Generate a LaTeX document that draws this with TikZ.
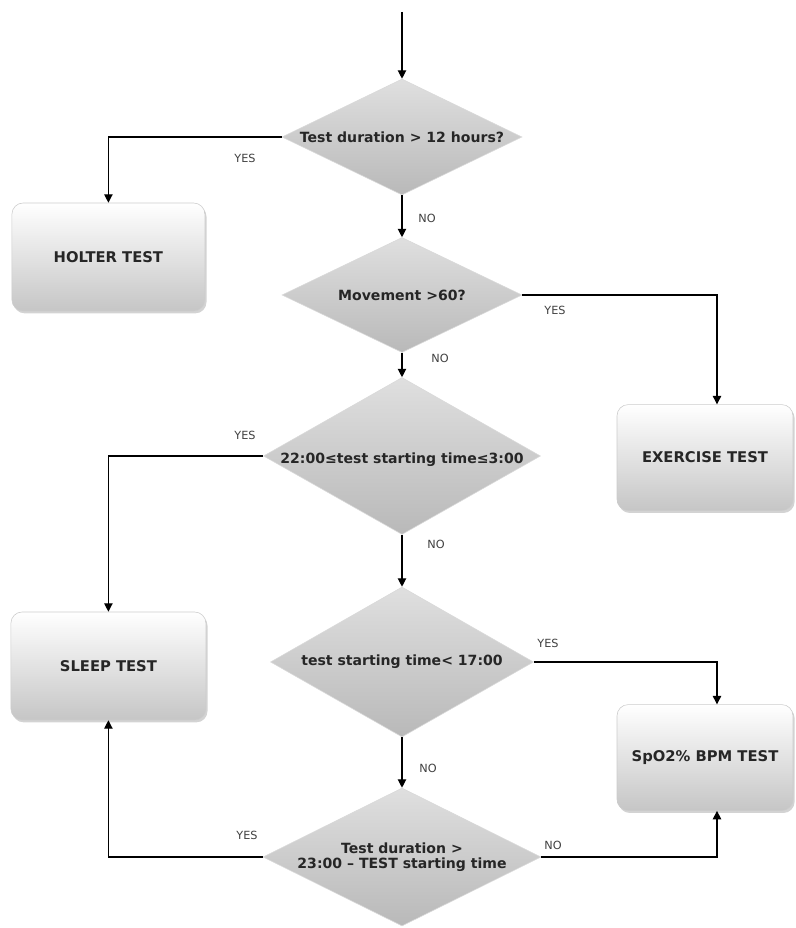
\documentclass[tikz,border=0pt]{standalone}
\usepackage{fontspec}
\setmainfont{DejaVu Sans}
\usepackage{tikz}
\usetikzlibrary{arrows.meta,positioning,shapes.geometric,calc,shadows}

\begin{document}
\begin{tikzpicture}[
  every node/.style={font=\fontsize{8}{9}\selectfont},
  decision/.style={diamond,draw=gray!30,top color=gray!25,bottom color=gray!55,
                   inner sep=0pt,minimum width=6cm,minimum height=2.9cm},
  qtext/.style={font=\fontsize{10}{13}\selectfont\bfseries,text=black!85,align=center},
  testbox/.style={draw=gray!40,rounded corners=8pt,top color=white,bottom color=gray!45,
                  minimum width=4.4cm,minimum height=2.65cm,
                  drop shadow={opacity=0.35,shadow xshift=0.4mm,shadow yshift=-0.6mm},
                  font=\fontsize{10.5}{13}\selectfont\bfseries,text=black!85},
  lbl/.style={font=\fontsize{8}{9}\selectfont,text=black!75},
  arr/.style={-{Triangle[length=6pt,width=6pt]},thick},
]
  \useasboundingbox (0,0) rectangle (19.9,23.2);

  % Decisions (centre column)
  \coordinate (start) at (10.05, 22.9);
  \node[decision] (d1) at (10.05, 19.775) {};
  \node[qtext] (d1txt) at (d1) {Test duration > 12 hours?};
  \node[decision,minimum height=2.875cm] (d2) at (10.05, 15.825) {};
  \node[qtext] (d2txt) at (d2) {Movement >60?};
  \node[decision,minimum width=6.925cm,minimum height=3.925cm] (d3) at (10.05, 11.8) {};
  \node[qtext] (d3txt) at ([yshift=-1mm]d3) {22:00≤test starting time≤3:00};
  \node[decision,minimum width=6.575cm,minimum height=3.75cm] (d4) at (10.05, 6.65) {};
  \node[qtext] (d4txt) at (d4) {test starting time< 17:00};
  \node[decision,minimum width=6.95cm,minimum height=3.45cm] (d5) at (10.05, 1.775) {};
  \node[qtext,font=\fontsize{10}{11}\selectfont\bfseries] (d5txt) at (d5)
    {Test duration >\\23:00 – TEST starting time};

  % Outcomes
  \node[testbox,minimum width=4.825cm,minimum height=2.7cm] (holter) at (2.71, 16.775) {HOLTER TEST};
  \node[testbox] (exercise) at (17.625, 11.76) {EXERCISE TEST};
  \node[testbox,minimum width=4.875cm,minimum height=2.7cm] (sleep) at (2.71, 6.55) {SLEEP TEST};
  \node[testbox] (spo2) at (17.625, 4.26) {SpO2\% BPM TEST};

  % Main flow
  \draw[arr] (start) -- (d1.north);
  \draw[arr] (d1.south) -- (d2.north);
  \draw[arr] (d2.south) -- (d3.north);
  \draw[arr] (d3.south) -- (d4.north);
  \draw[arr] (d4.south) -- (d5.north);

  % Branches
  \draw[arr] (d1.west) -| (holter.north);
  \draw[arr] (d2.east) -| ([xshift=3mm]exercise.north);
  \draw[arr] (d3.west) -| (sleep.north);
  \draw[arr] (d4.east) -| ([xshift=3mm]spo2.north);
  \draw[arr] (d5.west) -| (sleep.south);
  \draw[arr] (d5.east) -| ([xshift=3mm]spo2.south);

  % YES / NO labels
  \node[lbl] (y1) at (6.125, 19.25) {YES};
  \node[lbl] (n1) at (10.675, 17.75) {NO};
  \node[lbl] (y2) at (13.875, 15.45) {YES};
  \node[lbl] (n2) at (11.0, 14.25) {NO};
  \node[lbl] (y3) at (6.125, 12.325) {YES};
  \node[lbl] (n3) at (10.9, 9.6) {NO};
  \node[lbl] (y4) at (13.7, 7.125) {YES};
  \node[lbl] (n4) at (10.7, 4.0) {NO};
  \node[lbl] (y5) at (6.175, 2.325) {YES};
  \node[lbl] (n5) at (13.825, 2.075) {NO};
\end{tikzpicture}
\end{document}
